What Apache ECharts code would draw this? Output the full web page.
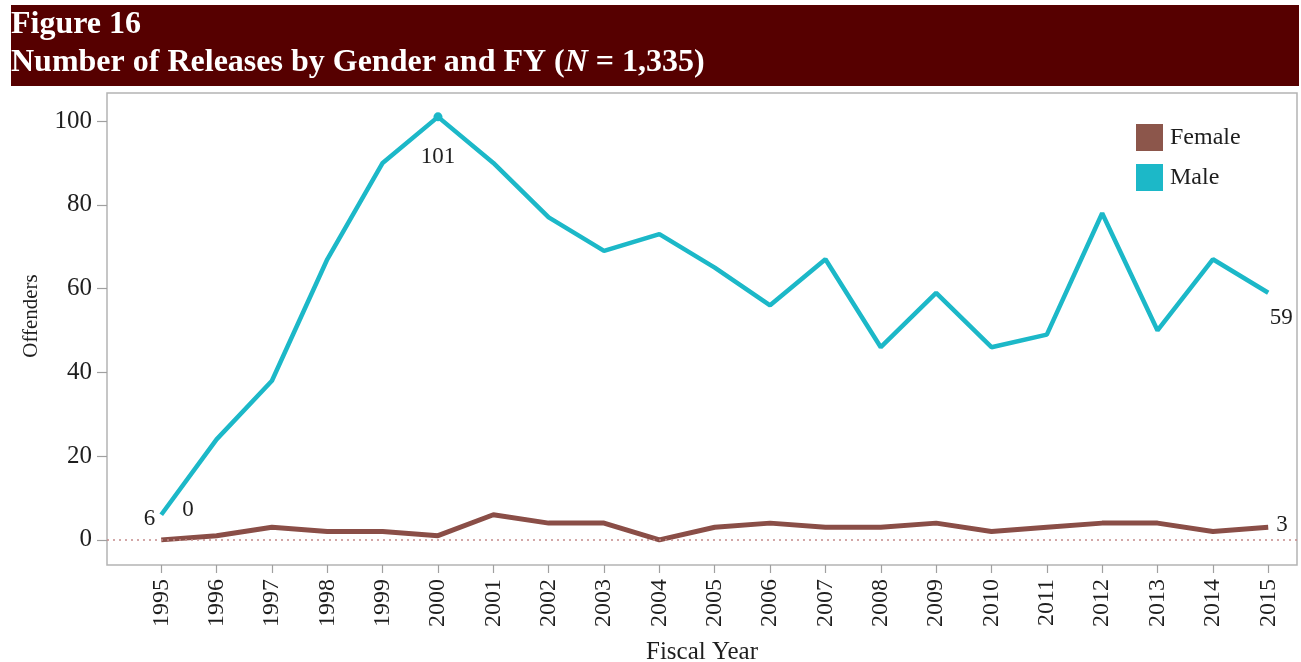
<!DOCTYPE html>
<html>
<head>
<meta charset="utf-8">
<script src="https://cdn.jsdelivr.net/npm/echarts@6/dist/echarts.min.js"></script>
<style>
html, body { margin: 0; padding: 0; background: #ffffff; }
#chart { width: 1301px; height: 662px; }
</style>
</head>
<body>
<div id="chart"></div>
<script>
const years = [1995, 1996, 1997, 1998, 1999, 2000, 2001, 2002, 2003, 2004, 2005,
               2006, 2007, 2008, 2009, 2010, 2011, 2012, 2013, 2014, 2015];
const female = [0, 1, 3, 2, 2, 1, 6, 4, 4, 0, 3, 4, 3, 3, 4, 2, 3, 4, 4, 2, 3];
const male = [6, 24, 38, 67, 90, 101, 90, 77, 69, 73, 65, 56, 67, 46, 59, 46, 49, 78, 50, 67, 59];
const yTicks = [0, 20, 40, 60, 80, 100];
const titleLine1 = 'Figure 16';
const titleLine2a = 'Number of Releases by Gender and FY (';
const titleLine2b = 'N';
const titleLine2c = ' = 1,335)';

const SERIF = '"Liberation Serif", "DejaVu Serif", serif';
const TXT = '#1e1e1e';
const lastIdx = years.length - 1;
const peakIdx = male.indexOf(Math.max.apply(null, male));

const maleData = years.map((y, i) => {
  const item = { value: [y, male[i]] };
  if (i === 0) {
    item.label = { show: true, position: 'left', distance: 6, offset: [0, 4] };
  } else if (i === peakIdx) {
    item.symbolSize = 9;
    item.label = { show: true, position: 'bottom', distance: 24 };
  } else if (i === lastIdx) {
    item.label = { show: true, position: 'bottom', distance: 14, offset: [13, 0] };
  }
  return item;
});
const femaleData = years.map((y, i) => {
  const item = { value: [y, female[i]] };
  if (i === 0) {
    item.label = { show: true, position: 'right', distance: 5, offset: [16, -30] };
  } else if (i === lastIdx) {
    item.label = { show: true, position: 'right', distance: 8, offset: [0, -2] };
  }
  return item;
});

const chart = echarts.init(document.getElementById('chart'));
chart.setOption({
  backgroundColor: '#ffffff',
  animation: false,
  graphic: [
    { type: 'rect', shape: { x: 11, y: 5, width: 1288, height: 81 }, style: { fill: '#560000' }, z: 0 },
    { type: 'text', x: 11, y: 25, style: { text: titleLine1, fill: '#ffffff', font: 'bold 32px ' + SERIF, verticalAlign: 'middle' } },
    { type: 'text', x: 11, y: 63, style: {
        text: '{b|' + titleLine2a + '}{i|' + titleLine2b + '}{b|' + titleLine2c + '}',
        verticalAlign: 'middle',
        rich: {
          b: { fill: '#ffffff', fontFamily: SERIF, fontWeight: 'bold', fontSize: 32 },
          i: { fill: '#ffffff', fontFamily: SERIF, fontWeight: 'bold', fontStyle: 'italic', fontSize: 32 }
        }
      } }
  ],
  legend: {
    data: ['Female', 'Male'],
    orient: 'vertical',
    left: 1131,
    top: 119,
    icon: 'rect',
    itemWidth: 27,
    itemHeight: 27,
    itemGap: 13,
    textStyle: { fontFamily: SERIF, fontSize: 24, color: TXT, padding: [0, 0, 0, 2] }
  },
  grid: {
    left: 107, top: 93, right: 4, bottom: 97,
    containLabel: false,
    outerBoundsMode: 'none',
    show: true, borderColor: '#b4b4b4', borderWidth: 1.5, backgroundColor: 'transparent'
  },
  xAxis: {
    type: 'value',
    min: 1994.02,
    max: 2015.52,
    name: 'Fiscal Year',
    nameLocation: 'middle',
    nameGap: 75,
    nameTextStyle: { fontFamily: SERIF, fontSize: 25, color: TXT },
    axisLine: { show: false, onZero: false },
    axisTick: { show: true, customValues: years, length: 8, lineStyle: { color: '#a0a0a0', width: 1.2 } },
    axisLabel: { customValues: years, rotate: 90, margin: 14, fontFamily: SERIF, fontSize: 24, color: TXT, formatter: v => String(v) },
    splitLine: { show: false }
  },
  yAxis: {
    type: 'value',
    min: -6,
    max: 106.7,
    name: 'Offenders',
    nameLocation: 'middle',
    nameGap: 65,
    nameRotate: 90,
    nameTextStyle: { fontFamily: SERIF, fontSize: 21, color: TXT, padding: [0, 0, 0, 26] },
    axisLine: { show: false, onZero: false },
    axisTick: { show: true, customValues: yTicks, length: 10, lineStyle: { color: '#a0a0a0', width: 1.2 } },
    axisLabel: { customValues: yTicks, margin: 15, fontFamily: SERIF, fontSize: 25, color: TXT, formatter: v => String(v) },
    splitLine: { show: false }
  },
  series: [
    {
      name: 'Female',
      type: 'line',
      data: femaleData,
      symbol: 'circle',
      symbolSize: 0,
      color: '#8c564b',
      itemStyle: { color: '#8c564b' },
      lineStyle: { color: '#8a4e47', width: 5 },
      label: { show: false, fontFamily: SERIF, fontSize: 23, color: TXT, formatter: p => p.value[1] },
      markLine: {
        silent: true,
        symbol: 'none',
        label: { show: false },
        lineStyle: { type: [2, 4], color: '#c58a8a', width: 1.5 },
        data: [{ yAxis: 0 }]
      },
      z: 2
    },
    {
      name: 'Male',
      type: 'line',
      data: maleData,
      symbol: 'circle',
      symbolSize: 0,
      color: '#17becf',
      itemStyle: { color: '#1cb8c8' },
      lineStyle: { color: '#1cb8c8', width: 4.5 },
      label: { show: false, fontFamily: SERIF, fontSize: 23, color: TXT, formatter: p => p.value[1] },
      z: 3
    }
  ]
});
</script>
</body>
</html>
